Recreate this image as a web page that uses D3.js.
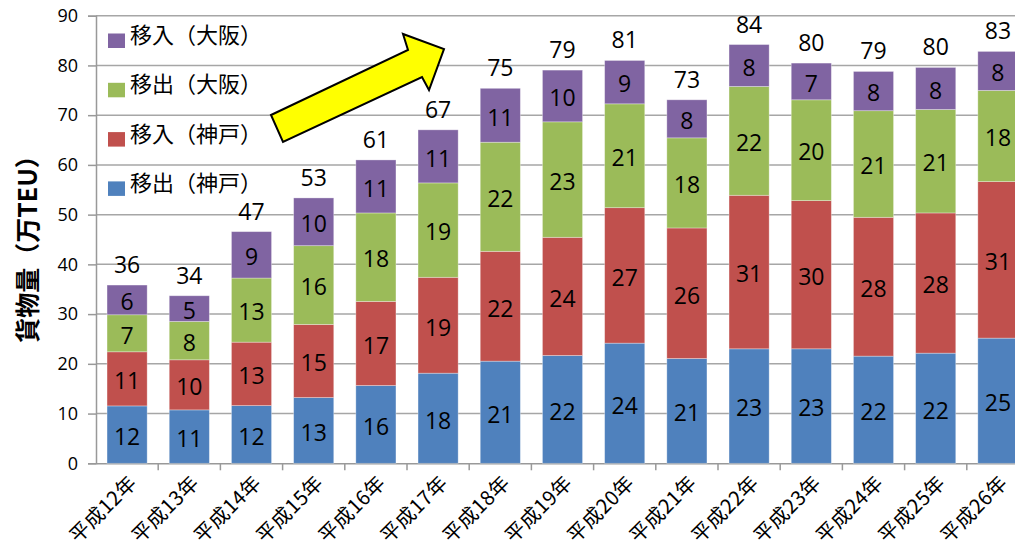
<!DOCTYPE html>
<html lang="ja">
<head>
<meta charset="UTF-8">
<title>貨物量 stacked bar</title>
<script src="https://d3js.org/d3.v7.min.js"></script>
<style>
  body { margin: 0; background: #fff; }
  svg { display: block; }
</style>
</head>
<body>
<script>
// data (万TEU)
const categories = ["平成12年", "平成13年", "平成14年", "平成15年", "平成16年", "平成17年", "平成18年", "平成19年",
                    "平成20年", "平成21年", "平成22年", "平成23年", "平成24年", "平成25年", "平成26年"];
const kobeOut  = [11.54, 10.74, 11.60, 13.22, 15.64, 18.12, 20.54, 21.68, 24.16, 21.07, 23.02, 23.02, 21.55, 22.15, 25.17];
const kobeIn   = [10.88, 10.07, 12.76, 14.70, 16.91, 19.28, 22.08, 23.76, 27.24, 26.25, 30.87, 29.80, 27.91, 28.19, 31.47];
const osakaOut = [7.45, 7.71, 12.89, 15.84, 17.79, 18.98, 21.94, 23.22, 20.88, 18.12, 21.88, 20.27, 21.44, 20.80, 18.33];
const osakaIn  = [5.97, 5.17, 9.33, 9.60, 10.66, 10.67, 10.84, 10.40, 8.72, 7.65, 8.43, 7.38, 7.89, 8.46, 7.85];
const seriesKeys  = ["移出（神戸）", "移入（神戸）", "移出（大阪）", "移入（大阪）"];
const seriesColor = ["#4F81BD", "#C0504D", "#9BBB59", "#8064A2"];
const yTicks = [0, 10, 20, 30, 40, 50, 60, 70, 80, 90];

const width = 1015, height = 552;
const plotLeft = 96, plotBottom = 463.3, plotTop = 15.7;
const band = 62.2;

const numFont = "'Open Sans', 'Noto Sans', sans-serif";
const jpFont = "'Noto Sans CJK JP', sans-serif";

const svg = d3.select("body").append("svg").attr("width", width).attr("height", height);

const x = d3.scaleBand().domain(categories).range([plotLeft, plotLeft + band * categories.length]);
const y = d3.scaleLinear().domain([0, 90]).range([plotBottom, plotTop]);

// table for the stack
const series = [kobeOut, kobeIn, osakaOut, osakaIn];
const rows = categories.map((c, i) => {
  const r = { cat: c };
  seriesKeys.forEach((k, j) => r[k] = series[j][i]);
  return r;
});
const stacked = d3.stack().keys(seriesKeys)(rows);

// gridlines
svg.append("g").selectAll("line")
  .data(yTicks.slice(1))
  .join("line")
  .attr("x1", plotLeft).attr("x2", width)
  .attr("y1", d => y(d)).attr("y2", d => y(d))
  .attr("stroke", "#A6A6A6").attr("stroke-width", 1.5);

// y axis
const yAxis = svg.append("g").attr("transform", `translate(${plotLeft},0)`)
  .call(d3.axisLeft(y).tickValues(yTicks).tickSize(8).tickPadding(10));
yAxis.select(".domain").attr("stroke", "#999").attr("stroke-width", 1.5);
yAxis.selectAll(".tick line").attr("stroke", "#999").attr("stroke-width", 1.5);
yAxis.selectAll("text").attr("font-family", numFont).attr("font-size", 18).attr("fill", "#000");

// x axis
const xAxis = svg.append("g").attr("transform", `translate(0,${plotBottom})`)
  .call(d3.axisBottom(x).tickSize(0).tickFormat(""));
xAxis.select(".domain").attr("stroke", "#999").attr("stroke-width", 1.5);
xAxis.selectAll(".tick").remove();
svg.append("g").selectAll("line")
  .data(categories)
  .join("line")
  .attr("x1", d => x(d) + band).attr("x2", d => x(d) + band)
  .attr("y1", plotBottom).attr("y2", plotBottom + 7)
  .attr("stroke", "#999").attr("stroke-width", 1.5);

svg.append("g").selectAll("text")
  .data(categories)
  .join("text")
  .attr("transform", d => `translate(${x(d) + band / 2 + 1},${plotBottom + 11}) rotate(-45)`)
  .attr("text-anchor", "end")
  .attr("dy", "0.7em")
  .attr("font-family", jpFont)
  .attr("font-size", 20)
  .attr("letter-spacing", 0.5)
  .text(d => d);

// bars
const barW = band * 0.645;
const barOff = (band - barW) / 2;
const layers = svg.append("g").selectAll("g")
  .data(stacked)
  .join("g")
  .attr("fill", (d, i) => seriesColor[i]);

layers.selectAll("rect")
  .data(d => d)
  .join("rect")
  .attr("x", d => x(d.data.cat) + barOff)
  .attr("width", barW)
  .attr("y", d => y(d[1]))
  .attr("height", d => y(d[0]) - y(d[1]))
  .attr("stroke", "#fff").attr("stroke-opacity", 0.4).attr("stroke-width", 0.8);

layers.selectAll("text")
  .data(d => d)
  .join("text")
  .attr("x", d => x(d.data.cat) + band / 2)
  .attr("y", d => (y(d[0]) + y(d[1])) / 2 + 2)
  .attr("dy", "0.36em")
  .attr("text-anchor", "middle")
  .attr("font-family", numFont)
  .attr("font-size", 23)
  .attr("fill", "#000")
  .text(d => Math.round(d[1] - d[0]));

// totals
const totals = rows.map((r, i) => ({ cat: r.cat, v: d3.sum(series, s => s[i]) }));
svg.append("g").selectAll("text")
  .data(totals)
  .join("text")
  .attr("x", d => x(d.cat) + band / 2)
  .attr("y", d => y(d.v) - 12)
  .attr("text-anchor", "middle")
  .attr("font-family", numFont)
  .attr("font-size", 23)
  .attr("fill", "#000")
  .text(d => Math.round(d.v));

// legend (top to bottom reversed series order)
const legendItems = seriesKeys.map((k, i) => ({ k, c: seriesColor[i] })).reverse();
const lg = svg.append("g").selectAll("g")
  .data(legendItems)
  .join("g")
  .attr("transform", (d, i) => `translate(108,${35 + i * 49.3})`);
lg.append("rect").attr("x", 0).attr("y", -1.5).attr("width", 17).attr("height", 14.5).attr("fill", d => d.c);
lg.append("text").attr("x", 22).attr("dy", "0.36em")
  .attr("font-family", jpFont).attr("font-size", 22).attr("fill", "#000")
  .text(d => d.k);

// y title
svg.append("text")
  .attr("transform", "translate(28,243) rotate(-90)")
  .attr("text-anchor", "middle")
  .attr("dy", "0.36em")
  .attr("font-family", jpFont)
  .attr("font-weight", "bold")
  .attr("font-size", 25)
  .text("貨物量（万TEU）");

// yellow arrow annotation
const arrowPts = [[271, 115], [408, 50], [403, 34], [444, 49], [429, 90], [422, 77], [283, 142]];
svg.append("polygon")
  .attr("points", arrowPts.map(p => p.join(",")).join(" "))
  .attr("fill", "#FFFF00")
  .attr("stroke", "#000")
  .attr("stroke-width", 2)
  .attr("stroke-linejoin", "miter");
</script>
</body>
</html>
